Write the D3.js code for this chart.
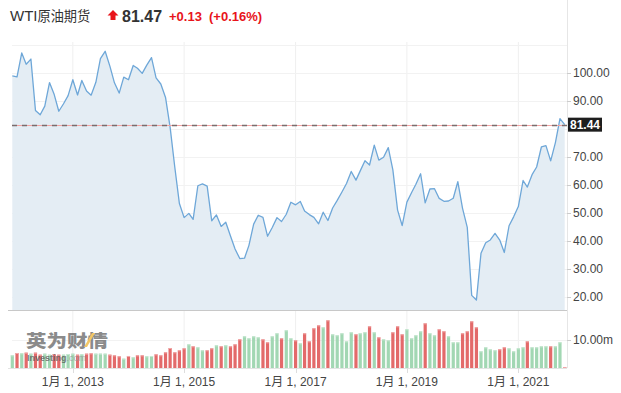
<!DOCTYPE html>
<html>
<head>
<meta charset="utf-8">
<script src="https://cdnjs.cloudflare.com/ajax/libs/d3/7.8.5/d3.min.js"></script>
<style>
html,body{margin:0;padding:0;background:#fff;}
svg{display:block;font-family:"Liberation Sans",Arial,"Noto Sans CJK SC",sans-serif;}
</style>
</head>
<body>
<svg id="chart" width="621" height="393"></svg>
<script>
// ---------- DATA ----------
const startMonth = [2011, 11]; // Dec 2011 (JS month index)
const prices = [
  98.83,
  98.48,107.07,103.02,104.87,86.53,84.96,88.06,96.47,92.19,86.24,88.91,91.82,
  97.49,92.05,97.23,93.46,91.97,96.56,105.03,107.65,102.33,96.38,92.72,98.42,
  97.49,102.59,101.58,99.74,102.71,105.37,98.17,95.96,91.16,80.54,66.15,53.27,
  48.24,49.76,47.60,59.63,60.30,59.47,47.12,49.20,45.09,46.59,41.65,37.04,
  33.62,33.75,38.34,45.92,49.10,48.33,41.60,44.70,48.24,46.86,49.44,53.72,
  52.81,54.01,50.60,49.33,48.32,46.04,50.17,47.23,51.67,54.38,57.40,60.42,
  64.73,61.64,64.94,68.57,67.04,74.15,68.76,69.80,73.25,65.31,50.93,45.41,
  53.79,57.22,60.14,63.91,53.50,58.47,58.58,55.10,54.07,54.18,55.17,61.06,
  51.56,44.76,20.48,18.84,35.49,39.27,40.27,42.61,40.22,35.79,45.34,48.52,
  52.20,61.50,59.16,63.58,66.32,73.47,73.95,68.50,75.03,83.57,81.44
];
// monthly volume, millions
const volumes = [
  4.52,
  5.36,5.24,5.48,5.12,5.48,4.76,5.12,4.76,5.00,4.76,4.76,5.00,
  5.12,4.76,4.88,5.12,5.24,5.12,5.12,5.12,4.76,4.52,4.17,3.33,
  4.29,3.81,4.52,4.52,4.17,4.29,4.88,4.52,5.60,7.14,5.60,6.31,
  7.02,8.45,7.74,7.38,6.31,6.31,7.02,8.10,7.74,8.10,7.74,8.45,
  10.24,11.31,10.60,11.31,10.95,10.24,9.17,11.31,12.38,10.60,13.45,10.60,
  9.88,8.81,12.38,9.52,14.17,15.24,14.52,17.02,12.02,11.67,12.38,9.52,
  12.74,12.02,12.38,12.74,14.88,12.74,10.95,10.24,9.88,12.74,14.88,12.02,
  13.81,10.60,11.67,13.10,15.95,12.38,11.67,13.81,13.10,11.31,9.17,9.17,
  12.38,13.10,16.67,14.52,5.95,7.38,6.67,6.31,6.67,7.38,7.02,5.95,
  7.02,7.38,9.52,7.38,7.38,7.74,7.74,7.74,7.74,9.17,0.36
];
const priceTicks = [100, 90, 70, 60, 50, 40, 30, 20];
const priceGrid = [110, 100, 90, 80, 70, 60, 50, 40, 30, 20];
const volTicks = [10];
const xTickYears = [2013, 2015, 2017, 2019, 2021];
const lastPrice = 81.44;
const title = "WTI原油期货";
const quote = "81.47", change = "+0.13", changePct = "(+0.16%)";

// ---------- SETUP ----------
const dates = prices.map((_, i) => new Date(startMonth[0], startMonth[1] + i, 1));
const data = prices.map((p, i) => ({date: dates[i], price: p, vol: volumes[i],
  up: i === 0 ? true : p >= prices[i - 1]}));

const svg = d3.select("#chart");
const L = 12, R = 567, pTop = 42, pBot = 310, vTop = 312, vBot = 368;

const x = d3.scaleTime().domain([dates[0], dates[dates.length - 1]]).range([12.3, 564.7]);
const yP = d3.scaleLinear().domain([20, 100]).range([296.7, 72.7]);
const yV = d3.scaleLinear().domain([0, 10]).range([vBot, 340]);

// vertical grid
svg.append("g").selectAll("line").data(xTickYears).join("line")
  .attr("x1", d => x(new Date(d, 0, 1))).attr("x2", d => x(new Date(d, 0, 1)))
  .attr("y1", pTop).attr("y2", vBot)
  .attr("stroke", "#efefef").attr("stroke-width", 1);

// horizontal grid
svg.append("g").selectAll("line").data(priceGrid).join("line")
  .attr("x1", L).attr("x2", R)
  .attr("y1", d => Math.round(yP(d)) + 0.5).attr("y2", d => Math.round(yP(d)) + 0.5)
  .attr("stroke", "#f2f2f2");
svg.append("line").attr("x1", L).attr("x2", R)
  .attr("y1", Math.round(yV(10)) + 0.5).attr("y2", Math.round(yV(10)) + 0.5)
  .attr("stroke", "#f2f2f2");

// area + line
const area = d3.area().x(d => x(d.date)).y0(pBot).y1(d => yP(d.price));
const line = d3.line().x(d => x(d.date)).y(d => yP(d.price));
svg.append("path").datum(data).attr("d", area).attr("fill", "#e4edf4");
svg.append("path").datum(data).attr("d", line).attr("fill", "none")
  .attr("stroke", "#6ea7d8").attr("stroke-width", 1.3).attr("stroke-linejoin", "round");

// last price line
const yl = Math.round(yP(lastPrice)) + 0.5;
svg.append("line").attr("x1", L).attr("x2", R).attr("y1", yl).attr("y2", yl)
  .attr("stroke", "#f3a2a2").attr("stroke-width", 1);
svg.append("line").attr("x1", L).attr("x2", R).attr("y1", yl).attr("y2", yl)
  .attr("stroke", "#7a6d6d").attr("stroke-width", 1.5).attr("stroke-dasharray", "5,5");

// panel borders
svg.append("line").attr("x1", 8).attr("x2", R).attr("y1", pBot + 0.5).attr("y2", pBot + 0.5)
  .attr("stroke", "#c8c8c8");
svg.append("line").attr("x1", 8).attr("x2", R).attr("y1", vBot + 0.5).attr("y2", vBot + 0.5)
  .attr("stroke", "#e3e3e3");
svg.append("line").attr("x1", R + 0.5).attr("x2", R + 0.5).attr("y1", 0).attr("y2", vBot)
  .attr("stroke", "#e6e6e6");

// volume bars
svg.append("g").selectAll("rect").data(data).join("rect")
  .attr("x", d => x(d.date) - 1.6).attr("width", 3.2)
  .attr("y", d => yV(d.vol)).attr("height", d => yV(0) - yV(d.vol))
  .attr("fill", d => d.up ? "#a2d7b3" : "#e36a6a");
svg.append("g").selectAll("rect").data(data).join("rect")
  .attr("x", d => x(d.date) - 1.6).attr("width", 3.2)
  .attr("y", d => yV(d.vol)).attr("height", d => Math.min(1, yV(0) - yV(d.vol)))
  .attr("fill", d => d.up ? "#c8e8d2" : "#f0a9a9");

// watermark
const wm = svg.append("g").attr("opacity", 0.78);
wm.append("text").attr("x", 26).attr("y", 347).text("英为财情")
  .attr("font-family", "'Noto Sans CJK SC',sans-serif").attr("font-weight", 900)
  .attr("font-size", 17).attr("fill", "#6b6b6b")
  .attr("textLength", 82).attr("lengthAdjust", "spacingAndGlyphs");
wm.append("path").attr("d", "M84,347 L92,333 L95,333 L87,347 Z").attr("fill", "#f0b83c");
const wt = wm.append("text").attr("x", 27).attr("y", 361).attr("font-size", 9).attr("font-weight", "bold")
  .attr("fill", "#5a5a5a").attr("textLength", 59).attr("lengthAdjust", "spacingAndGlyphs");
wt.append("tspan").text("Investing");
wt.append("tspan").attr("fill", "#9a9a9a").attr("font-weight", "normal").text(".com");

// right axis: price
const ax = svg.append("g");
ax.selectAll("line").data(priceTicks).join("line")
  .attr("x1", R).attr("x2", R + 4)
  .attr("y1", d => Math.round(yP(d)) + 0.5).attr("y2", d => Math.round(yP(d)) + 0.5)
  .attr("stroke", "#ccc");
ax.selectAll("text").data(priceTicks).join("text")
  .attr("x", 573).attr("y", d => yP(d)).attr("dy", "0.35em")
  .attr("font-size", 12).attr("fill", "#444").text(d => d.toFixed(2));
svg.append("g").selectAll("text").data(volTicks).join("text")
  .attr("x", 573).attr("y", d => yV(d)).attr("dy", "0.35em")
  .attr("font-size", 12).attr("fill", "#444").text(d => d.toFixed(2) + "m");
svg.append("g").selectAll("line").data(volTicks).join("line")
  .attr("x1", R).attr("x2", R + 4)
  .attr("y1", d => Math.round(yV(d)) + 0.5).attr("y2", d => Math.round(yV(d)) + 0.5)
  .attr("stroke", "#ccc");

// last price label
svg.append("rect").attr("x", 568).attr("y", yP(lastPrice) - 7).attr("width", 34).attr("height", 14)
  .attr("fill", "#1e1e1e");
svg.append("text").attr("x", 585).attr("y", yP(lastPrice)).attr("dy", "0.36em")
  .attr("text-anchor", "middle").attr("font-size", 12).attr("font-weight", "bold")
  .attr("fill", "#fff").text(lastPrice.toFixed(2));

// bottom axis
const bx = svg.append("g");
bx.selectAll("line").data(xTickYears).join("line")
  .attr("x1", d => Math.round(x(new Date(d, 0, 1))) + 0.5).attr("x2", d => Math.round(x(new Date(d, 0, 1))) + 0.5)
  .attr("y1", vBot).attr("y2", vBot + 5).attr("stroke", "#ddd");
bx.selectAll("text").data(xTickYears).join("text")
  .attr("x", d => x(new Date(d, 0, 1))).attr("y", 382).attr("dy", "0.35em")
  .attr("text-anchor", "middle").attr("font-size", 12).attr("fill", "#444")
  .text(d => "1月 1, " + d);

// header
const h = svg.append("text").attr("x", 10).attr("y", 21).attr("fill", "#333");
h.append("tspan").attr("font-size", 15).text(title.slice(0, 3));
h.append("tspan").attr("font-size", 13.2).attr("font-family", "'Noto Sans CJK SC',sans-serif").text(title.slice(3));
svg.append("path").attr("d", "M113,10 L118.5,15.5 L115.5,15.5 L115.5,20 L110.5,20 L110.5,15.5 L107.5,15.5 Z")
  .attr("fill", "#e8141b");
svg.append("text").attr("x", 122).attr("y", 21.5).attr("font-size", 16).attr("font-weight", "bold")
  .attr("fill", "#333").text(quote);
svg.append("text").attr("x", 169).attr("y", 21).attr("font-size", 13).attr("font-weight", "bold")
  .attr("fill", "#e8141b").text(change);
svg.append("text").attr("x", 209).attr("y", 21).attr("font-size", 13).attr("font-weight", "bold")
  .attr("fill", "#e8141b").text(changePct);
</script>
</body>
</html>
